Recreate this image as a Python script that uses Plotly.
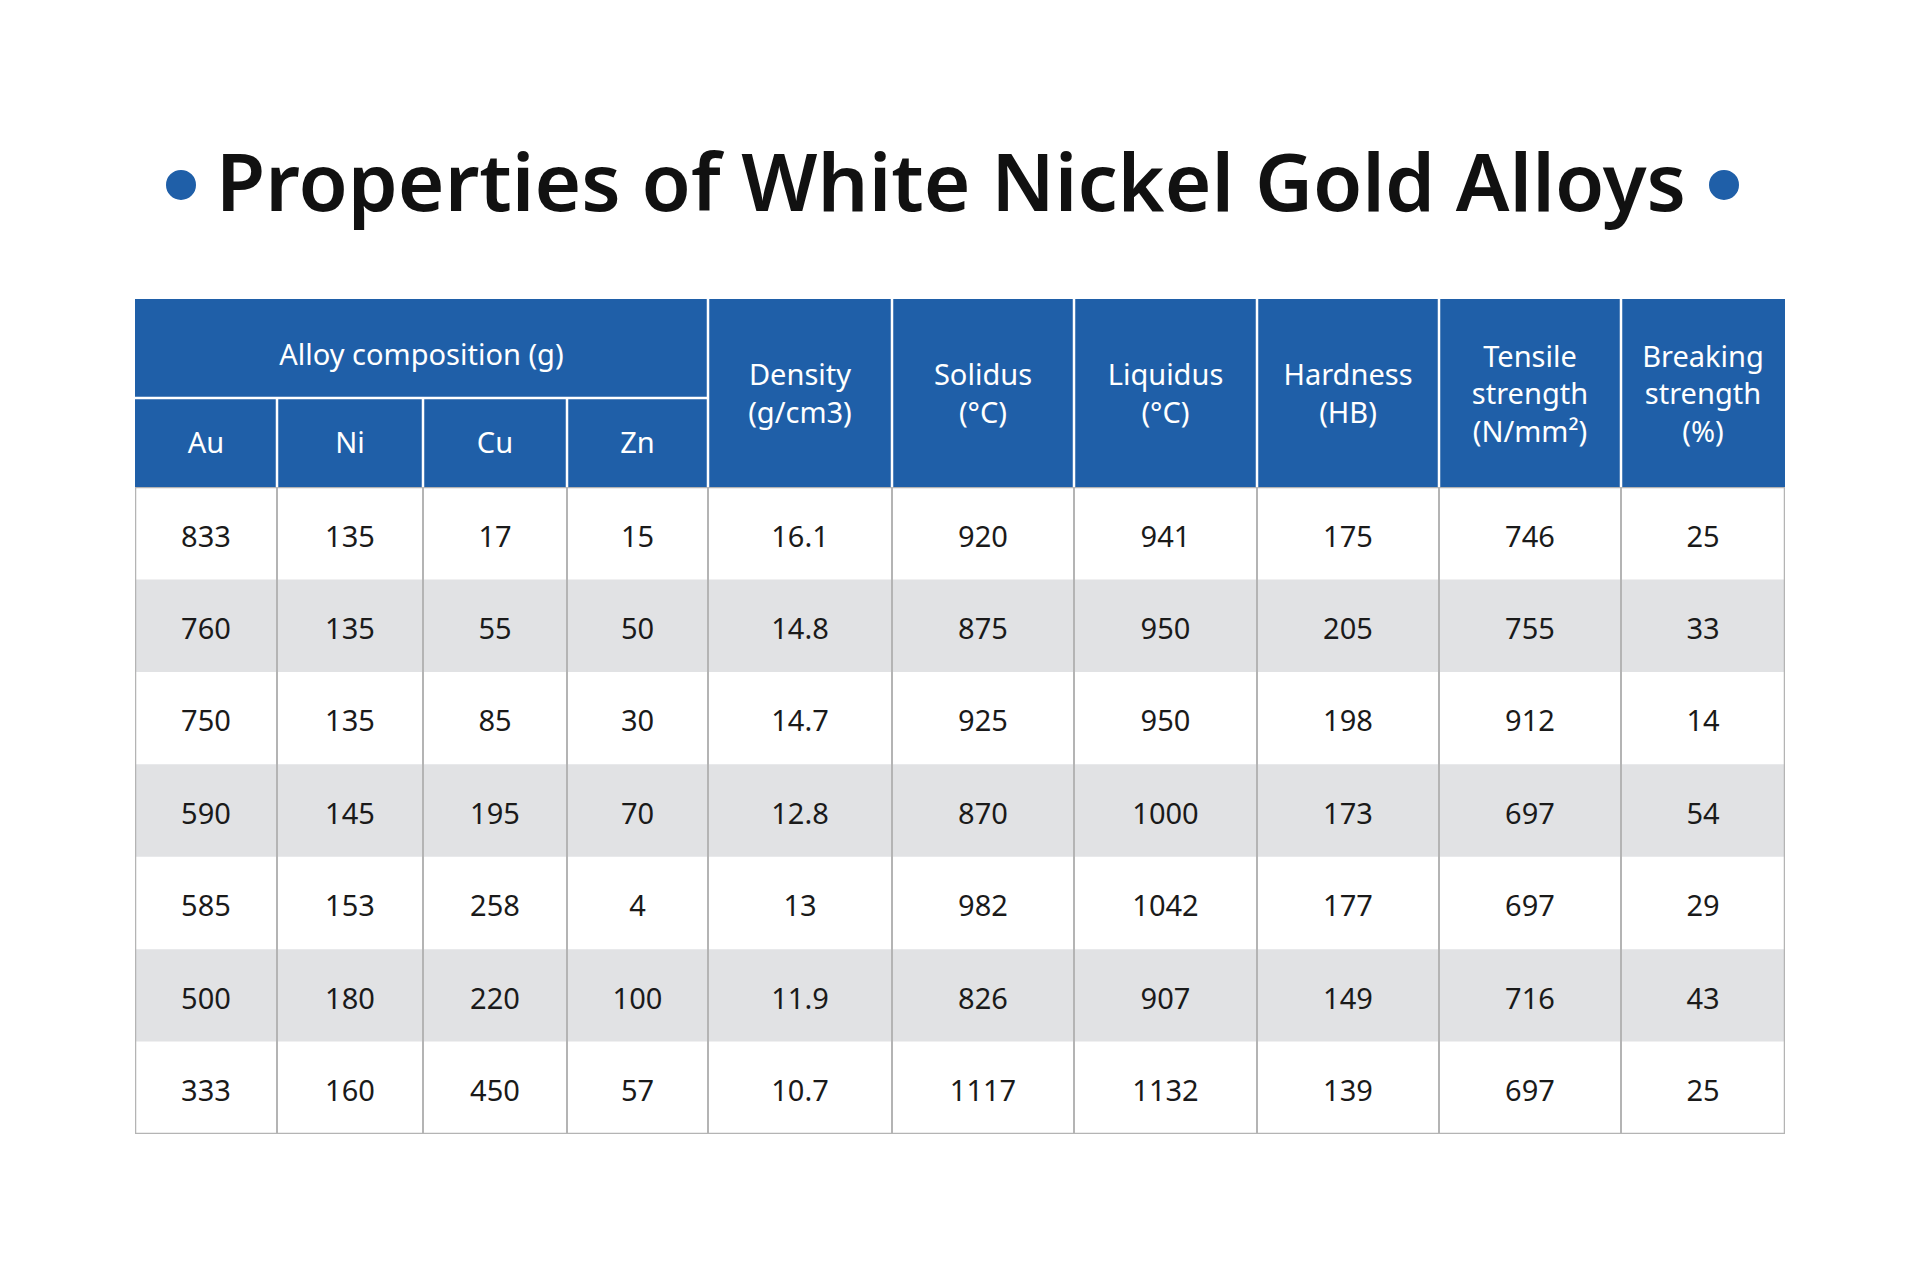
## Properties of White Nickel Gold Alloys - table drawn on hidden axes
import plotly.graph_objects as go

## Data
title_text = "Properties of White Nickel Gold Alloys"
group_label = "Alloy composition (g)"
alloy_cols = ["Au", "Ni", "Cu", "Zn"]
property_cols = ["Density<br>(g/cm3)", "Solidus<br>(°C)", "Liquidus<br>(°C)",
    "Hardness<br>(HB)", "Tensile<br>strength<br>(N/mm²)",
    "Breaking<br>strength<br>(%)"]
au = ["833", "760", "750", "590", "585", "500", "333"]
ni = ["135", "135", "135", "145", "153", "180", "160"]
cu = ["17", "55", "85", "195", "258", "220", "450"]
zn = ["15", "50", "30", "70", "4", "100", "57"]
density = ["16.1", "14.8", "14.7", "12.8", "13", "11.9", "10.7"]
solidus = ["920", "875", "925", "870", "982", "826", "1117"]
liquidus = ["941", "950", "950", "1000", "1042", "907", "1132"]
hardness = ["175", "205", "198", "173", "177", "149", "139"]
tensile = ["746", "755", "912", "697", "697", "716", "697"]
breaking = ["25", "33", "14", "54", "29", "43", "25"]
columns = [au, ni, cu, zn, density, solidus, liquidus, hardness, tensile,
    breaking]

## Layout / style
col_w = [142, 146, 144, 141, 184, 182, 183, 182, 182, 164]
head1_h = 99
head2_h = 89
row_h = 92.4
blue = "#1F5FA8"
stripe = "#E1E2E4"
grid = "#B4B4B4"
font_family = "Noto Sans"
txt_size = 29
txt_drop = 6        # optical nudge so digits sit mid-row

edges = [0]
for w in col_w:
    edges.append(edges[-1] + w)
centers = [(edges[i] + edges[i + 1]) / 2 for i in range(len(col_w))]
head_h = head1_h + head2_h
n_rows = len(au)
total_w = edges[-1]
total_h = head_h + n_rows * row_h
row_top = [head_h + i * row_h for i in range(n_rows)]
row_mid = [t + row_h / 2 + txt_drop for t in row_top]

fig = go.Figure()
shapes = []
#-------------------------------------------------------------------------------
## Body stripes, grid and border
for i in range(n_rows):
    if i % 2 == 1:
        shapes.append(dict(type="rect", x0=0, x1=total_w, y0=row_top[i],
            y1=row_top[i] + row_h, fillcolor=stripe, line_width=0,
            layer="below"))
for e in edges[1:-1]:
    shapes.append(dict(type="line", x0=e, x1=e, y0=head_h, y1=total_h,
        line=dict(color=grid, width=2), layer="below"))
shapes.append(dict(type="rect", x0=0, x1=total_w, y0=head_h, y1=total_h,
    line=dict(color=grid, width=2.5), layer="below"))
#-------------------------------------------------------------------------------
## Header block
shapes.append(dict(type="rect", x0=0, x1=total_w, y0=0, y1=head_h,
    fillcolor=blue, line_width=0, layer="below"))
shapes.append(dict(type="line", x0=0, x1=edges[4], y0=head1_h, y1=head1_h,
    line=dict(color="white", width=2.5), layer="below"))
for i, e in enumerate(edges[1:-1]):
    y0 = head1_h if i < 3 else 0
    shapes.append(dict(type="line", x0=e, x1=e, y0=y0, y1=head_h,
        line=dict(color="white", width=2.5), layer="below"))

head_font = dict(family=font_family, size=txt_size, color="white")
fig.add_trace(go.Scatter(x=[edges[4] / 2], y=[head1_h / 2 + 9],
    text=[group_label], mode="text", hoverinfo="skip", textfont=head_font))
fig.add_trace(go.Scatter(x=centers[:4], y=[head1_h + head2_h / 2 + 3] * 4,
    text=alloy_cols, mode="text", hoverinfo="skip", textfont=head_font))
fig.add_trace(go.Scatter(x=centers[4:],
    y=[head_h / 2 + 4] * len(property_cols),
    text=property_cols, mode="text", hoverinfo="skip", textfont=head_font))
#-------------------------------------------------------------------------------
## Body values
for c, vals in zip(centers, columns):
    fig.add_trace(go.Scatter(x=[c] * n_rows, y=row_mid, text=vals,
        mode="text", hoverinfo="skip",
        textfont=dict(family=font_family, size=txt_size, color="#1A1A1A")))
#-------------------------------------------------------------------------------
## Title with blue bullet dots either side
dot_r = 15
for cx in [46, 1589]:
    shapes.append(dict(type="circle", xref="paper", yref="paper",
        x0=(cx - dot_r) / total_w, x1=(cx + dot_r) / total_w,
        y0=1 + (114 - dot_r) / total_h, y1=1 + (114 + dot_r) / total_h,
        fillcolor=blue, line_width=0))

fig.update_layout(
    width=1920, height=1272, autosize=False,
    margin=dict(l=127, r=143, t=291, b=146),
    paper_bgcolor="white", plot_bgcolor="white", showlegend=False,
    shapes=shapes,
    title=dict(text=title_text,
        x=943 / 1920, xanchor="center", y=1 - 175 / 1272,
        yanchor="middle",
        font=dict(family=font_family, size=80, color="#111111", weight=600)),
    xaxis=dict(range=[0, total_w], visible=False, fixedrange=True),
    yaxis=dict(range=[total_h, 0], visible=False, fixedrange=True))
fig.write_html("out.html")
